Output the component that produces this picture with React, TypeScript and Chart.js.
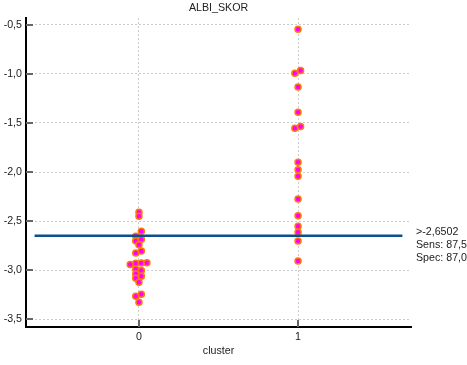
import React, { useEffect, useRef } from 'react';
import { Chart, registerables } from 'chart.js';

Chart.register(...registerables);

const chartTitle = 'ALBI_SKOR';
const xAxisTitle = 'cluster';
const clusters = [0, 1];
const yTicks = [-3.5, -3.0, -2.5, -2.0, -1.5, -1.0, -0.5];

// cluster 0 values and horizontal jitter (category units)
const cluster0Values = [
  -2.41, -2.451, -2.655, -2.604, -2.703, -2.686, -2.741, -2.826, -2.805,
  -2.944, -2.93, -2.927, -2.924, -2.991, -3.005, -3.039, -3.062, -3.083,
  -3.123, -3.266, -3.246, -3.327,
];
const cluster0Jitter = [
  0, 0, -0.02, 0.015, -0.02, 0.015, 0, -0.02, 0.015,
  -0.055, -0.02, 0.015, 0.05, -0.02, 0.015, -0.02, 0.015, -0.02,
  0, -0.02, 0.015, 0,
];

// cluster 1 values and jitter
const cluster1Values = [
  -0.544, -0.992, -0.964, -1.134, -1.392, -1.555, -1.535, -1.901, -1.977,
  -2.044, -2.275, -2.445, -2.553, -2.614, -2.703, -2.907,
];
const cluster1Jitter = [
  0, -0.02, 0.016, 0, 0, -0.02, 0.016, 0, 0,
  0, 0, 0, 0, 0, 0, 0,
];

const cutoffValue = -2.6502;
const cutoffFrom = -0.656;
const cutoffTo = 1.656;
const cutoffLabels = ['>-2,6502', 'Sens: 87,5', 'Spec: 87,0'];

const xMin = -0.71;
const xMax = 1.71;
const yMin = -3.58;
const yMax = -0.43;

const FONT_FAMILY = '"Liberation Sans", Arial, sans-serif';
const FONT_SIZE = 10.67;
const TEXT_COLOR = '#222222';

export default function App() {
  const canvasRef = useRef<HTMLCanvasElement | null>(null);

  useEffect(() => {
    const canvas = canvasRef.current;
    if (!canvas) return;

    const points = [
      ...cluster0Values.map((v, i) => ({ x: clusters[0] + cluster0Jitter[i], y: v })),
      ...cluster1Values.map((v, i) => ({ x: clusters[1] + cluster1Jitter[i], y: v })),
    ];

    const decorPlugin = {
      id: 'decor',
      afterDraw(chart: any) {
        const { ctx, chartArea, scales } = chart;
        const xs = scales.x;
        const ys = scales.y;
        ctx.save();
        // tick marks inside the plot
        ctx.strokeStyle = '#666666';
        ctx.lineWidth = 2;
        yTicks.forEach((v) => {
          const py = Math.round(ys.getPixelForValue(v));
          ctx.beginPath();
          ctx.moveTo(chartArea.left, py);
          ctx.lineTo(chartArea.left + 7, py);
          ctx.stroke();
        });
        clusters.forEach((c) => {
          const px = Math.round(xs.getPixelForValue(c));
          ctx.beginPath();
          ctx.moveTo(px, chartArea.bottom);
          ctx.lineTo(px, chartArea.bottom - 7);
          ctx.stroke();
        });
        // title
        ctx.fillStyle = TEXT_COLOR;
        ctx.font = `${FONT_SIZE}px ${FONT_FAMILY}`;
        ctx.textAlign = 'center';
        ctx.textBaseline = 'middle';
        ctx.fillText(chartTitle, (chartArea.left + chartArea.right) / 2, 8);
        // cutoff labels
        const cy = ys.getPixelForValue(cutoffValue);
        ctx.textAlign = 'left';
        cutoffLabels.forEach((t, i) => {
          ctx.fillText(t, chartArea.right + 5, cy - 4 + i * 13);
        });
        ctx.restore();
      },
    };

    const chart = new Chart(canvas, {
      type: 'scatter',
      data: {
        datasets: [
          {
            type: 'line',
            data: [
              { x: cutoffFrom, y: cutoffValue },
              { x: cutoffTo, y: cutoffValue },
            ],
            borderColor: '#0b4f8f',
            borderWidth: 2.5,
            pointRadius: 0,
            fill: false,
          } as any,
          {
            data: points,
            backgroundColor: '#ff00ff',
            borderColor: '#ff7a00',
            borderWidth: 1.5,
            pointRadius: 3,
          },
        ],
      },
      plugins: [decorPlugin],
      options: {
        animation: false,
        responsive: true,
        maintainAspectRatio: false,
        layout: { padding: { top: 18, right: 56, left: 0, bottom: 0 } },
        plugins: {
          legend: { display: false },
          tooltip: { enabled: false },
          title: { display: false },
        },
        scales: {
          x: {
            type: 'linear',
            min: xMin,
            max: xMax,
            afterBuildTicks: (scale: any) => {
              scale.ticks = clusters.map((v) => ({ value: v }));
            },
            afterFit: (scale: any) => {
              scale.height = 38;
            },
            ticks: {
              padding: 4,
              color: TEXT_COLOR,
              font: { family: FONT_FAMILY, size: FONT_SIZE },
              callback: (v: any) => String(v),
            },
            grid: {
              color: '#cccccc',
              lineWidth: 1,
              drawTicks: false,
              tickLength: 0,
            },
            border: { display: true, color: '#000000', width: 2, dash: [2, 2] },
            title: {
              display: true,
              text: xAxisTitle,
              color: TEXT_COLOR,
              font: { family: FONT_FAMILY, size: FONT_SIZE },
              padding: { top: 2, bottom: 8 },
            },
          },
          y: {
            type: 'linear',
            min: yMin,
            max: yMax,
            afterBuildTicks: (scale: any) => {
              scale.ticks = yTicks.map((v) => ({ value: v }));
            },
            afterFit: (scale: any) => {
              scale.width = 26;
            },
            ticks: {
              padding: 4,
              color: TEXT_COLOR,
              font: { family: FONT_FAMILY, size: FONT_SIZE },
              callback: (v: any) => Number(v).toFixed(1).replace('.', ','),
            },
            grid: {
              color: '#cccccc',
              lineWidth: 1,
              drawTicks: false,
              tickLength: 0,
            },
            border: { display: true, color: '#000000', width: 2, dash: [2, 2] },
          },
        },
      },
    });

    return () => chart.destroy();
  }, []);

  return (
    <div style={{ position: 'fixed', left: 0, top: 0, width: 467, height: 365, background: '#ffffff' }}>
      <canvas ref={canvasRef} />
    </div>
  );
}
